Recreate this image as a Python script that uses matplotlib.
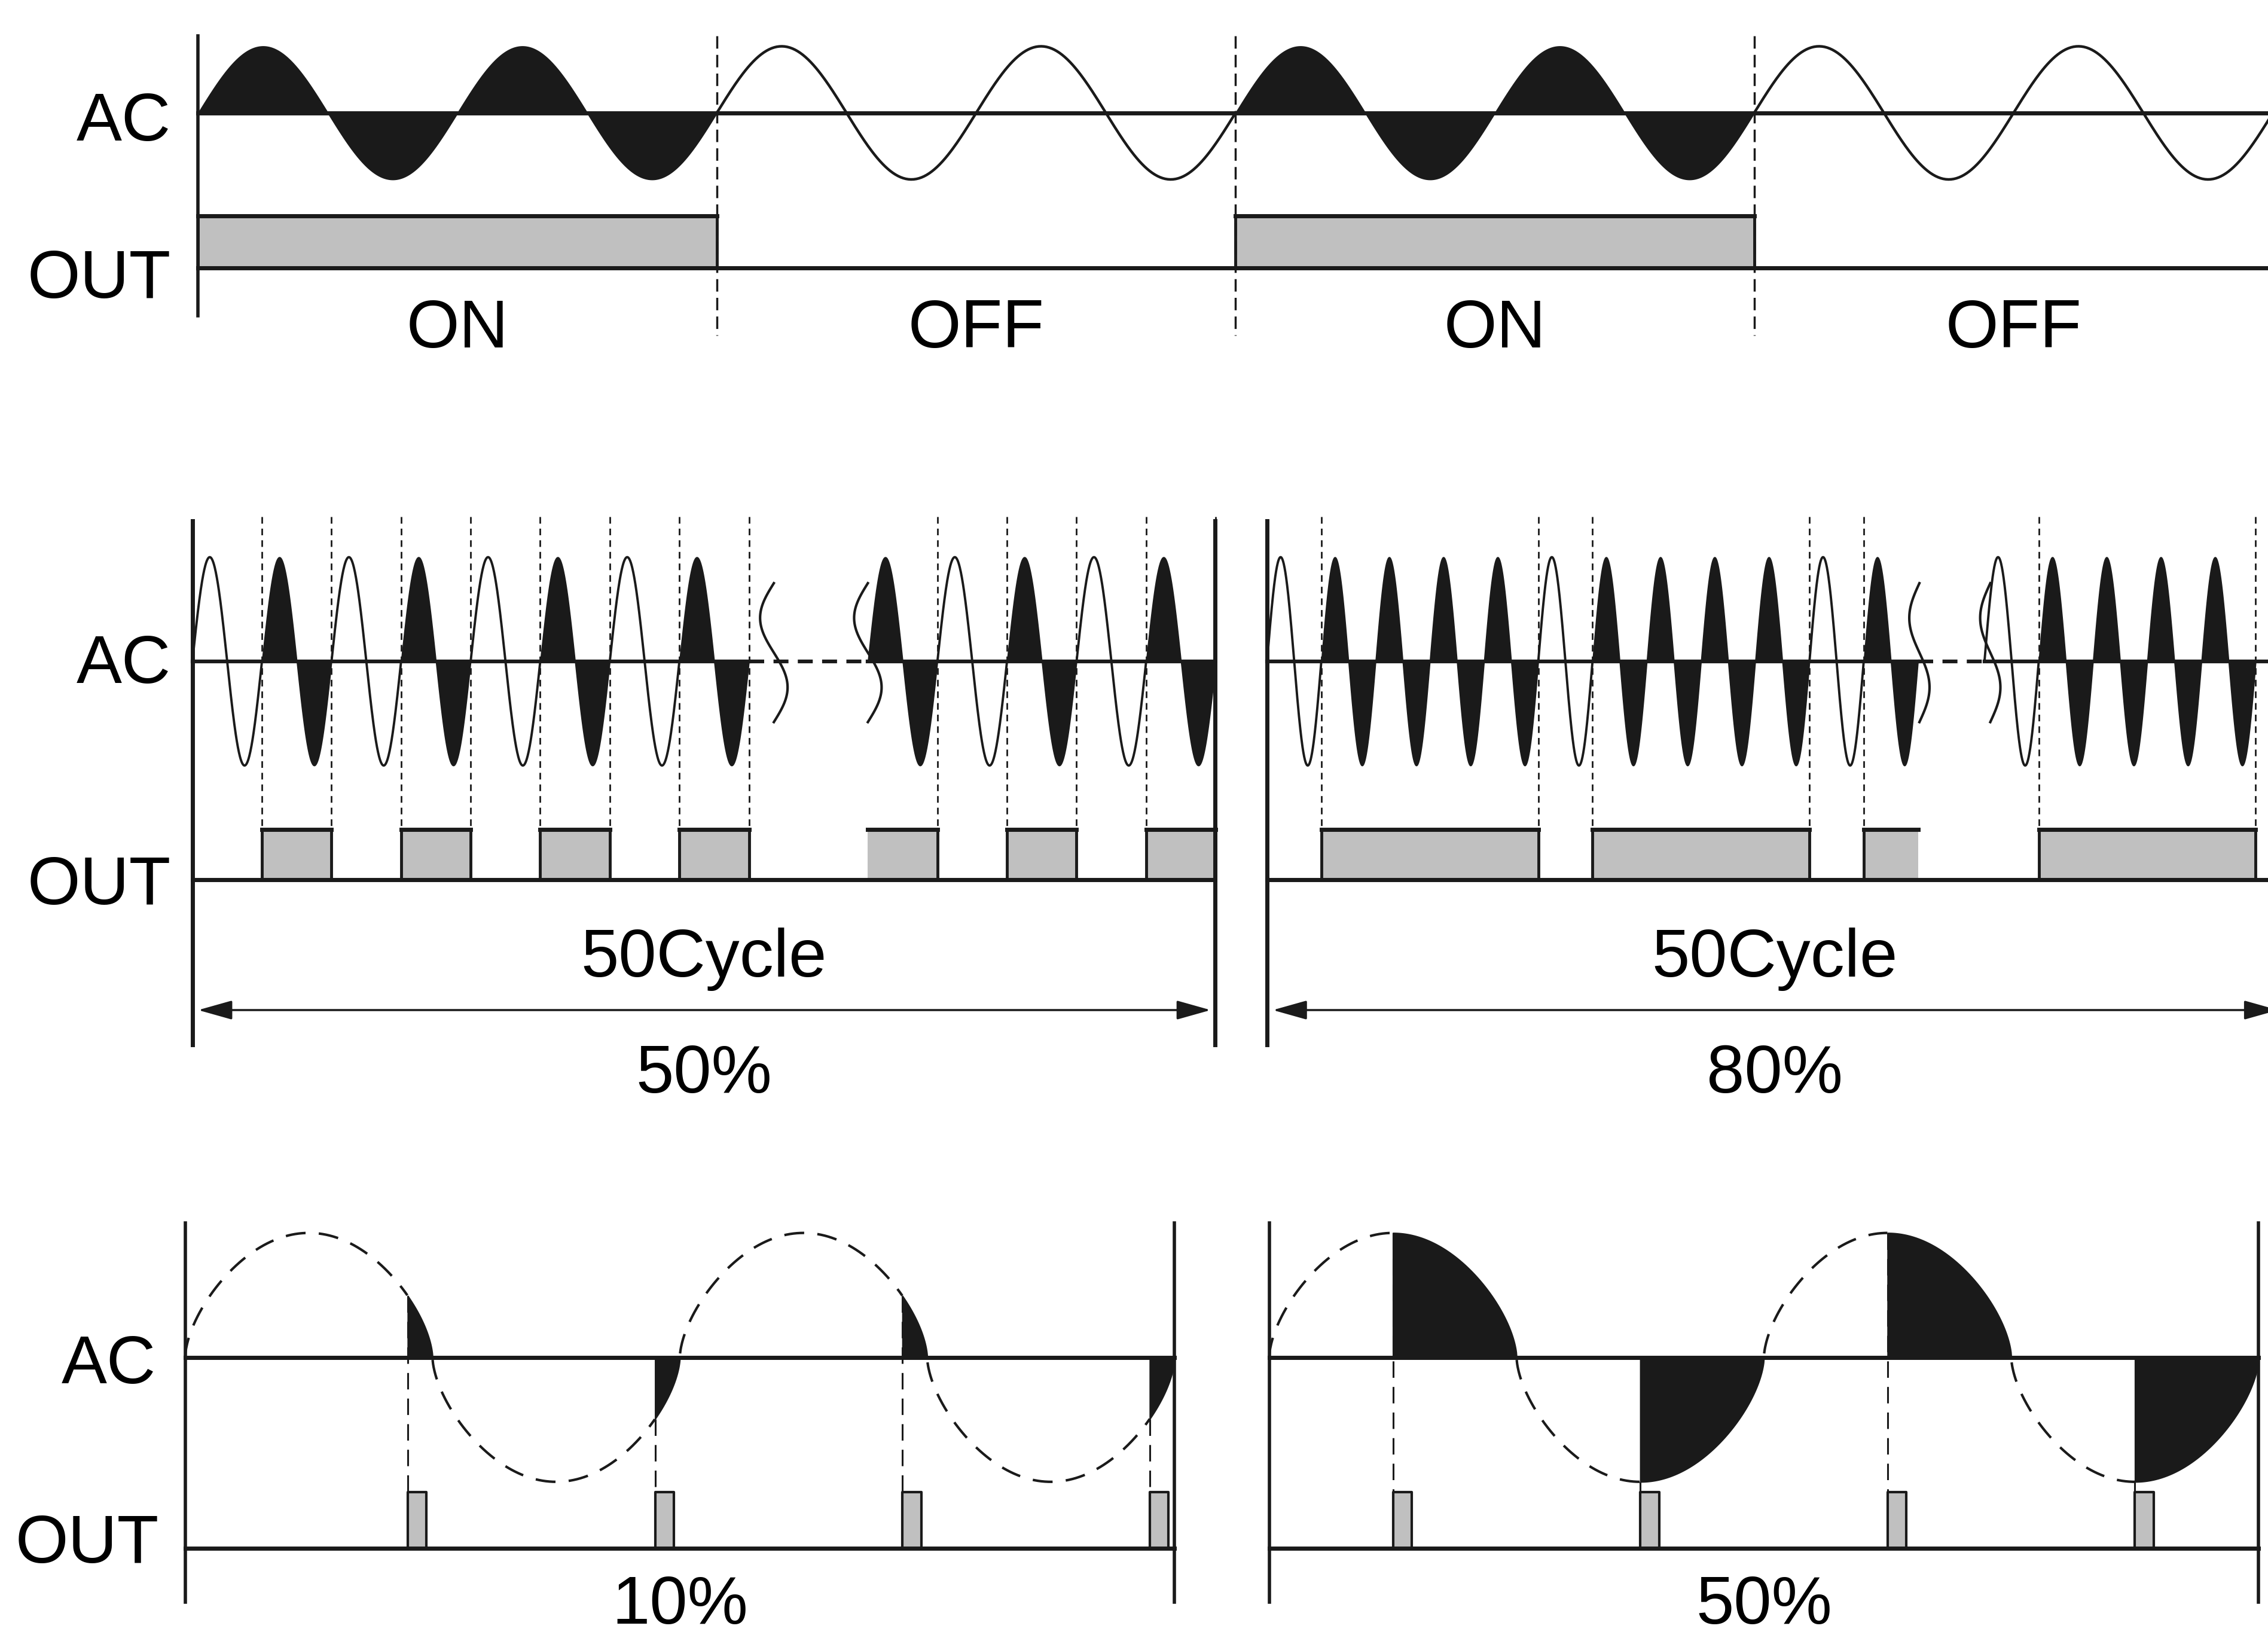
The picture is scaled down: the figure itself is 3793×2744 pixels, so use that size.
import numpy as np
import matplotlib.pyplot as plt

plt.rcParams['font.family'] = ['Liberation Sans', 'DejaVu Sans']

# ---- data ----
# top: burst (on/off) control, conducting state of each AC cycle
burst_states = [1, 1, 0, 0, 1, 1, 0, 0]
burst_labels = ["ON", "OFF", "ON", "OFF"]

# middle: cycle control over 50 cycles, states before / after the break
cycle50_before = [0, 1, 0, 1, 0, 1, 0, 1]
cycle50_after = [1, 0, 1, 0, 1]
cycle80_before = [0, 1, 1, 1, 1, 0, 1, 1, 1, 1, 0, 1]
cycle80_after = [0, 1, 1, 1, 1]
cycle_span_label = "50Cycle"
cycle_ratio_labels = ["50%", "80%"]

# bottom: phase control, conducting part of every half cycle
phase_ratio = [0.10, 0.50]
phase_labels = ["10%", "50%"]
phase_half_cycles = 4

BLACK = "#1a1a1a"
GRAY = "#c0c0c0"
FS = 82
W, H = 1568, 1134   # layout grid of the reference

fig = plt.figure(figsize=(37.93, 27.44), dpi=100)
fig.patch.set_facecolor("white")


def panel(x0, yb, per, amp):
    # full-figure axes: x in AC cycles, y in amplitudes
    ax = fig.add_axes([0, 0, 1, 1])
    ax.set_xlim(-x0 / per, (W - x0) / per)
    ax.set_ylim((yb - H) / amp, yb / amp)
    ax.axis("off")
    fx = lambda x: (np.asarray(x, dtype=float) - x0) / per
    fy = lambda y: (yb - np.asarray(y, dtype=float)) / amp
    return ax, fx, fy


def runs(states):
    k, n = 0, len(states)
    while k < n:
        j = k
        while j < n and states[j] == states[k]:
            j += 1
        yield states[k], k, j
        k = j


def wave(ax, start, states, lw=2.8):
    for k, on in enumerate(states):
        t = np.linspace(start + k, start + k + 1, 200)
        y = np.sin(2 * np.pi * (t - start))
        if on:
            ax.fill_between(t, 0, y, color=BLACK, lw=1.2, zorder=3)
        else:
            ax.plot(t, y, color=BLACK, lw=lw, zorder=3)


def edges(start, states, close_end):
    xs = [start + k for k in range(1, len(states)) if states[k] != states[k - 1]]
    if close_end and states[-1]:
        xs.append(start + len(states))
    return xs


def out_bars(ax, start, states, y0, y1, open_left=False, open_right=False):
    n = len(states)
    for on, k, j in runs(states):
        if not on:
            continue
        a, b = start + k, start + j
        ax.fill_between([a, b], y0, y1, color=GRAY, lw=0, zorder=1)
        ax.plot([a, b], [y1, y1], color=BLACK, lw=5, zorder=2)
        if not (open_left and k == 0):
            ax.plot([a, a], [y0, y1], color=BLACK, lw=3.5, zorder=2)
        if not (open_right and j == n):
            ax.plot([b, b], [y0, y1], color=BLACK, lw=3.5, zorder=2)


def squiggle(ax, fx, fy, xc, yc, w):
    s = np.linspace(0, 1, 80)
    ax.plot(fx(xc - w * np.sin(2 * np.pi * s)), fy(yc - 54 + s * 96),
            color=BLACK, lw=3, zorder=4)


def rounded(t):
    # the phase-control drawing uses a fuller, rounder wave
    s = np.sin(2 * np.pi * t)
    return np.sign(s) * np.abs(s) ** 0.6


# ---------- top: burst control ----------
ax, fx, fy = panel(137, 78, 179.3, 46)
n = len(burst_states)
wave(ax, 0, burst_states, lw=3.2)
ax.plot([0, fx(W)], [0, 0], color=BLACK, lw=5, zorder=4)
out0, out1 = fy(185), fy(149)
out_bars(ax, 0, burst_states, out0, out1)
ax.plot([0, fx(W)], [out0, out0], color=BLACK, lw=5, zorder=4)
for x in edges(0, burst_states, False):
    ax.plot([x, x], [fy(25), fy(232)], color=BLACK, lw=2.5, dashes=(6, 3), zorder=5)
ax.plot([0, 0], [fy(25), fy(218)], color=BLACK, lw=4, zorder=5)
size = n // len(burst_labels)
for i, lab in enumerate(burst_labels):
    ax.text(size * (i + 0.5), fy(240), lab, ha="center", va="baseline", fontsize=FS)
ax.text(fx(118), fy(97), "AC", ha="right", va="baseline", fontsize=FS)
ax.text(fx(118), fy(206), "OUT", ha="right", va="baseline", fontsize=FS)

# ---------- middle: cycle control ----------
mid = [
    (133, 48.1, cycle50_before, cycle50_after, 600, 840, (535, 600), 9.5, True),
    (876, 37.5, cycle80_before, cycle80_after, 1372, 1578, (1327, 1376), 7, False),
]
for i, (x0, per, before, after, b_px, right_px, sq, sw, close_a) in enumerate(mid):
    ax, fx, fy = panel(x0, 457, per, 72)
    b0 = float(fx(b_px))
    a1 = len(before)
    wave(ax, 0, before)
    wave(ax, b0, after)
    ax.plot([0, a1], [0, 0], color=BLACK, lw=4.5, zorder=4)
    ax.plot([a1, b0], [0, 0], color=BLACK, lw=4.5, dashes=(4, 2.5), zorder=4)
    ax.plot([b0, fx(right_px)], [0, 0], color=BLACK, lw=4.5, zorder=4)
    for xc in sq:
        squiggle(ax, fx, fy, xc, 457, sw)
    out0, out1 = fy(608), fy(573)
    out_bars(ax, 0, before, out0, out1, open_right=not close_a)
    out_bars(ax, b0, after, out0, out1, open_left=close_a)
    ax.plot([0, fx(right_px)], [out0, out0], color=BLACK, lw=5, zorder=4)
    xs = edges(0, before, close_a) + edges(b0, after, True)
    for x in xs:
        ax.plot([x, x], [fy(357), out0], color=BLACK, lw=2, dashes=(4, 3), zorder=5)
    for xb in (0, fx(right_px)):
        ax.plot([xb, xb], [fy(360), fy(722)], color=BLACK, lw=5, zorder=5)
    xr = float(fx(right_px))
    ax.annotate("", xy=(fx(right_px - 3), fy(698)), xytext=(fx(x0 + 4), fy(698)),
                annotation_clip=False,
                arrowprops=dict(arrowstyle="<|-|>,head_length=1.6,head_width=0.45",
                                mutation_scale=22, lw=2.5, color=BLACK,
                                shrinkA=0, shrinkB=0))
    ax.text(xr / 2, fy(675), cycle_span_label, ha="center", va="baseline", fontsize=FS)
    ax.text(xr / 2, fy(755), cycle_ratio_labels[i], ha="center", va="baseline", fontsize=FS)
    if i == 0:
        ax.text(fx(118), fy(472), "AC", ha="right", va="baseline", fontsize=FS)
        ax.text(fx(118), fy(625), "OUT", ha="right", va="baseline", fontsize=FS)

# ---------- bottom: phase control ----------
for i, (x0, ratio) in enumerate(zip([128, 877.5], phase_ratio)):
    ax, fx, fy = panel(x0, 938, 342, 86)
    span = phase_half_cycles / 2
    t = np.linspace(0, span, 2000)
    y = rounded(t)
    conduct = np.zeros_like(t, dtype=bool)
    out0, out1 = fy(1070), fy(1031)
    pw = 13 / 342
    for h in range(phase_half_cycles):
        t1 = (h + 1) * 0.5
        tf = t1 - ratio * 0.5
        tt = np.linspace(tf, t1, 300)
        ax.fill_between(tt, 0, rounded(tt), color=BLACK, lw=1.5, zorder=3)
        conduct |= (t > tf) & (t < t1)
        ax.plot([tf, tf], [rounded(tf), out1], color=BLACK, lw=2.2,
                dashes=(9, 5), zorder=2)
        ax.fill_between([tf, tf + pw], out0, out1, color=GRAY, lw=0, zorder=1)
        ax.plot([tf, tf, tf + pw, tf + pw], [out0, out1, out1, out0],
                color=BLACK, lw=3, zorder=2)
    ax.plot(t, np.where(conduct, np.nan, y), color=BLACK, lw=3, dashes=(8, 5.3), zorder=3)
    ax.plot([0, span], [0, 0], color=BLACK, lw=5, zorder=4)
    ax.plot([0, span], [out0, out0], color=BLACK, lw=5, zorder=4)
    for xb in (0, span):
        ax.plot([xb, xb], [fy(845), fy(1107)], color=BLACK, lw=4, zorder=5)
    ax.text(span / 2, fy(1122), phase_labels[i], ha="center", va="baseline", fontsize=FS)
    if i == 0:
        ax.text(fx(108), fy(956), "AC", ha="right", va="baseline", fontsize=FS)
        ax.text(fx(110), fy(1080), "OUT", ha="right", va="baseline", fontsize=FS)

fig.savefig("out.png", dpi=100, facecolor="white")
